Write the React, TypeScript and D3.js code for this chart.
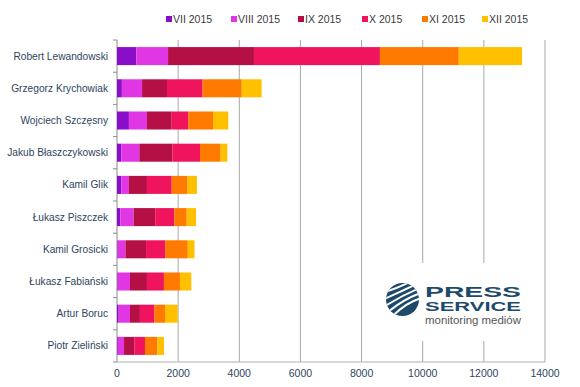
import React from 'react';
import * as d3 from 'd3';

const players = [
  'Robert Lewandowski',
  'Grzegorz Krychowiak',
  'Wojciech Szczęsny',
  'Jakub Błaszczykowski',
  'Kamil Glik',
  'Łukasz Piszczek',
  'Kamil Grosicki',
  'Łukasz Fabiański',
  'Artur Boruc',
  'Piotr Zieliński',
];

const months = ['VII 2015', 'VIII 2015', 'IX 2015', 'X 2015', 'XI 2015', 'XII 2015'];
const monthColors = ['#8a0dc8', '#e036e3', '#b51046', '#f0145e', '#ff7a00', '#ffc000'];

const vii = [630, 160, 390, 140, 140, 110, 20, 20, 55, 25];
const viii = [1040, 660, 590, 590, 250, 435, 255, 405, 370, 205];
const ix = [2810, 815, 810, 1080, 590, 705, 675, 555, 325, 335];
const x10 = [4120, 1165, 540, 905, 810, 625, 625, 555, 470, 350];
const xi = [2580, 1280, 810, 675, 520, 405, 740, 525, 350, 405];
const xii = [2070, 650, 500, 220, 305, 305, 220, 370, 415, 215];

const xTicks = [0, 2000, 4000, 6000, 8000, 10000, 12000, 14000];

const W = 580;
const H = 387;
const margin = { top: 40, right: 35, bottom: 25, left: 117 };

const App = () => {
  const series = [vii, viii, ix, x10, xi, xii];
  const rows = players.map((p, i) => {
    const r: any = { name: p };
    months.forEach((m, j) => (r[m] = series[j][i]));
    return r;
  });
  const stacked = d3.stack().keys(months)(rows);

  const x = d3.scaleLinear().domain([0, 14000]).range([margin.left, W - margin.right]);
  const y = d3
    .scaleBand()
    .domain(players)
    .range([margin.top, H - margin.bottom])
    .paddingInner(0.44)
    .paddingOuter(0.22);
  const step = y.step();
  const bottom = H - margin.bottom;
  const top = margin.top;
  const font = 'Arial, "Liberation Sans", sans-serif';

  const legendX = [166, 231, 298, 362, 422, 482];

  // white stripes for the logo globe
  const stripes = [-10, -4, 2, 8, 14];

  return (
    <svg width={W} height={H} style={{ position: 'absolute', left: 0, top: 0, background: '#fff' }}>
      <rect x={0} y={0} width={W} height={H} fill="#fff" />
      {/* gridlines */}
      {xTicks.slice(1).map((t) => (
        <line key={t} x1={x(t)} x2={x(t)} y1={top} y2={bottom} stroke="#a8a8a8" strokeWidth={1} />
      ))}
      {/* axes */}
      <line x1={margin.left} x2={margin.left} y1={top} y2={bottom} stroke="#8c8c8c" />
      <line x1={margin.left} x2={W - margin.right} y1={bottom} y2={bottom} stroke="#b0b0b0" />
      {d3.range(players.length + 1).map((i) => (
        <line
          key={i}
          x1={margin.left - 4}
          x2={margin.left}
          y1={top + i * step}
          y2={top + i * step}
          stroke="#8c8c8c"
        />
      ))}
      {/* bars */}
      {stacked.map((s, j) => (
        <g key={s.key} fill={monthColors[j]}>
          {s.map((d: any, i) => (
            <rect
              key={i}
              x={x(d[0])}
              y={y(players[i])}
              width={Math.max(0, x(d[1]) - x(d[0]))}
              height={y.bandwidth()}
            />
          ))}
        </g>
      ))}
      {/* category labels */}
      {players.map((p) => (
        <text
          key={p}
          x={margin.left - 9}
          y={(y(p) as number) + y.bandwidth() / 2}
          dy="0.35em"
          textAnchor="end"
          fontFamily={font}
          fontSize={10.2}
          fill="#2e4560"
        >
          {p}
        </text>
      ))}
      {/* x tick labels */}
      {xTicks.map((t) => (
        <text
          key={t}
          x={x(t)}
          y={377}
          textAnchor="middle"
          fontFamily={font}
          fontSize={10.5}
          fill="#2e4560"
        >
          {t}
        </text>
      ))}
      {/* legend */}
      {months.map((m, j) => (
        <g key={m} transform={`translate(${legendX[j]},19)`}>
          <rect x={0} y={-3} width={6} height={6} fill={monthColors[j]} />
          <text x={7} y={0} dy="0.35em" fontFamily={font} fontSize={10.5} fill="#3a3a3a">
            {m}
          </text>
        </g>
      ))}
      {/* logo */}
      <g>
        <rect x={380} y={263} width={143} height={78} fill="#fff" />
        <clipPath id="globe">
          <circle cx={402.5} cy={299.5} r={16.5} />
        </clipPath>
        <circle cx={402.5} cy={299.5} r={16.5} fill="#1d4a6b" />
        <g clipPath="url(#globe)" stroke="#fff" strokeWidth={2} fill="none">
          {stripes.map((o) => (
            <path
              key={o}
              d={`M${386 + o * 0.4},${303 + o} Q${402 + o * 0.3},${294 + o * 0.6} ${420},${286 + o * 0.9}`}
            />
          ))}
        </g>
        <text
          x={425}
          y={297}
          fontFamily={font}
          fontWeight="900"
          fontSize={14}
          fill="#1d4a6b"
          textLength={96}
          lengthAdjust="spacingAndGlyphs"
        >
          PRESS
        </text>
        <text
          x={425}
          y={311}
          fontFamily={font}
          fontWeight="900"
          fontSize={12.5}
          fill="#1d4a6b"
          textLength={96}
          lengthAdjust="spacingAndGlyphs"
        >
          SERVICE
        </text>
        <text
          x={425}
          y={324}
          fontFamily={font}
          fontSize={10}
          fill="#555"
          textLength={96}
          lengthAdjust="spacingAndGlyphs"
        >
          monitoring mediów
        </text>
      </g>
    </svg>
  );
};

export default App;
